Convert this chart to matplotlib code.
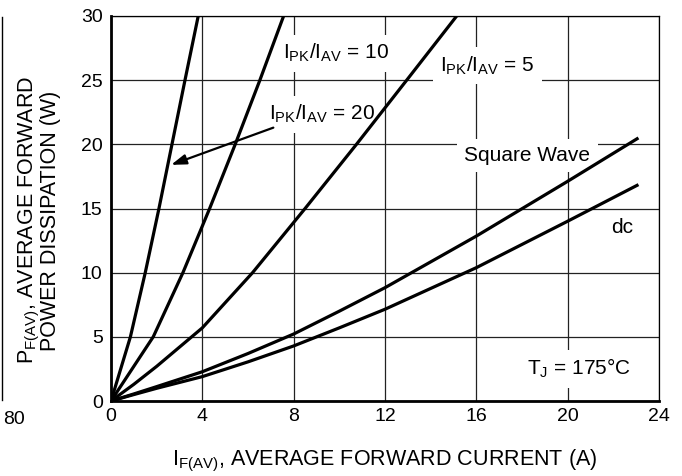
#!/usr/bin/env python3
# coding: utf-8
import matplotlib
matplotlib.use('Agg')
import matplotlib.pyplot as plt
from matplotlib.lines import Line2D

# Forward power dissipation curves
ratio20_i = [0, 0.85, 1.5, 2.1, 2.67, 3.24, 3.82]
ratio20_p = [0, 5, 10, 15, 20, 25, 30]

ratio10_i = [0, 1.85, 3.15, 4.32, 5.44, 6.52, 7.56]
ratio10_p = [0, 5, 10, 15, 20, 25, 30]

ratio5_i = [0, 1, 2, 4, 6.2, 8.5, 10.75, 12.95, 15.14]
ratio5_p = [0, 1.3, 2.7, 5.7, 10, 15, 20, 25, 30]

square_i = [0, 1, 2, 4, 6, 8, 10, 12, 16, 20, 23.1]
square_p = [0, 0.55, 1.12, 2.28, 3.7, 5.22, 7.0, 8.83, 12.85, 17.12, 20.5]

dc_i = [0, 1, 2, 4, 6, 8, 10, 12, 16, 20, 23.1]
dc_p = [0, 0.5, 0.99, 1.9, 3.05, 4.29, 5.7, 7.15, 10.39, 14.01, 16.86]

x_ticks = [0, 4, 8, 12, 16, 20, 24]
y_ticks = [0, 5, 10, 15, 20, 25, 30]

plt.rcParams['font.family'] = ['Liberation Sans', 'DejaVu Sans']
plt.rcParams['mathtext.fontset'] = 'custom'
plt.rcParams['mathtext.rm'] = 'Liberation Sans'
plt.rcParams['mathtext.it'] = 'Liberation Sans:italic'
plt.rcParams['mathtext.bf'] = 'Liberation Sans:bold'

W, H = 682, 476
fig = plt.figure(figsize=(W / 100, H / 100), dpi=100)

# axes box in pixels: x 111..659, y 16..401
ax = fig.add_axes([111 / W, (H - 401) / H, 548 / W, 385 / H])

curve_kw = dict(color='black', lw=2.3, solid_capstyle='butt', zorder=3)
for xs, ys in [(ratio20_i, ratio20_p), (ratio10_i, ratio10_p), (ratio5_i, ratio5_p),
               (square_i, square_p), (dc_i, dc_p)]:
    ax.plot(xs, ys, **curve_kw)

ax.set_xlim(0, 24)
ax.set_ylim(0, 30)
ax.set_xticks(x_ticks)
ax.set_yticks(y_ticks)
ax.grid(True, color='#222222', lw=0.9, zorder=1)
ax.set_axisbelow(True)
ax.tick_params(length=0, labelsize=14)
ax.tick_params(axis='x', pad=5)
ax.tick_params(axis='y', pad=6)

for side in ['left', 'bottom']:
    ax.spines[side].set_linewidth(2.0)
for side in ['top', 'right']:
    ax.spines[side].set_linewidth(0.9)

# curve labels (white box hides the grid behind them, curves stay on top)
box = dict(boxstyle='square,pad=0.35', fc='white', ec='none')
lab_kw = dict(fontsize=15, ha='center', va='baseline', bbox=box, zorder=2)
ax.text(9.85, 26.65, r'$\mathrm{I_{PK}/I_{AV}}$ = 10', **lab_kw)
ax.text(16.49, 25.67, r'$\mathrm{I_{PK}/I_{AV}}$ = 5', **lab_kw)
ax.text(9.23, 21.9, r'$\mathrm{I_{PK}/I_{AV}}$ = 20', **lab_kw)
ax.text(18.24, 18.7, 'Square Wave', **lab_kw)
ax.text(22.4, 13.1, 'dc', **lab_kw)
ax.text(20.48, 2.03, r'$\mathrm{T_J}$ = 175°C', **lab_kw)

ax.annotate('', xy=(2.63, 18.4), xytext=(7.11, 21.3),
            arrowprops=dict(arrowstyle='-|>,head_length=0.9,head_width=0.3',
                            color='black', lw=1.6, shrinkA=0, shrinkB=0),
            zorder=5)

# axis titles
fig.text(29 / W, 1 - 220 / H, r'$\mathrm{P_{F(AV)}}$, AVERAGE FORWARD',
         rotation=90, ha='center', va='center', fontsize=15.5)
fig.text(51 / W, 1 - 221 / H, 'POWER DISSIPATION (W)',
         rotation=90, ha='center', va='center', fontsize=15.5)
fig.text(385 / W, 1 - 465 / H, r'$\mathrm{I_{F(AV)}}$, AVERAGE FORWARD CURRENT (A)',
         ha='center', va='baseline', fontsize=15.5)

# clipped edge of the neighbouring graph on the left
fig.add_artist(Line2D([1.5 / W, 1.5 / W], [1 - 17 / H, 1 - 400 / H],
                      color='black', lw=1.0))
fig.text(25 / W, 1 - 419 / H, '80', ha='right', va='center', fontsize=14)

fig.savefig('out.png', dpi=100)
